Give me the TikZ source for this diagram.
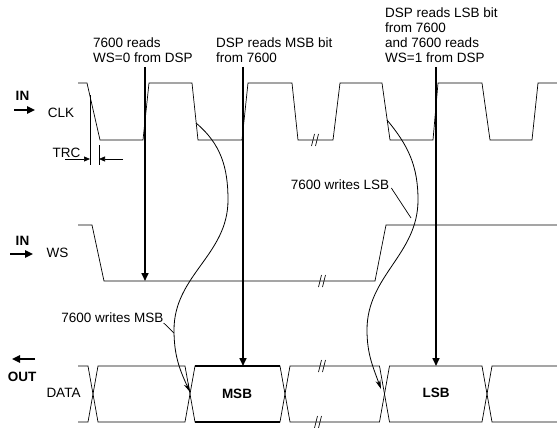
\documentclass[tikz,border=0pt]{standalone}
\usepackage{fontspec}
\setmainfont{Liberation Sans}
\usetikzlibrary{arrows.meta}

\tikzset{
  wave/.style={line width=0.7pt},
  msbbox/.style={line width=1.5pt},
  readarr/.style={line width=1.6pt,-{Triangle[length=8pt,width=7pt]}},
  inarr/.style={line width=1.6pt,-{Triangle[length=8pt,width=7.5pt]}},
  trcarr/.style={line width=0.7pt,-{Triangle[length=6pt,width=5pt]}},
  writearr/.style={line width=0.8pt,-{Stealth[length=9pt,width=5pt]}},
  lbl/.style={inner sep=0pt,font=\fontsize{13.5}{15}\selectfont},
  blbl/.style={lbl,font=\fontsize{13.5}{15}\selectfont\bfseries}
}
\newcommand{\brkmark}[2]{\draw[wave] (#1-3.5,#2+6) -- (#1-0.5,#2-6) (#1+0.5,#2+6) -- (#1+3.5,#2-6);}
\newcommand{\buscell}[2]{\draw[wave] (#1,394) -- (#1+5,366) -- (#2-5,366) -- (#2,394) -- (#2-5,422) -- (#1+5,422) -- cycle;}

\begin{document}
\begin{tikzpicture}[x=1pt,y=-1pt]
    \useasboundingbox (0,0) rectangle (557,428);

    % signal names
    \node (clkin)  at (22.5,96)  [blbl] {IN};
    \node (clk)    at (61,113)   [lbl] {CLK};
    \node (trc)    at (66.5,153) [lbl] {TRC};
    \node (wsin)   at (22.5,241) [blbl] {IN};
    \node (ws)     at (57.5,253) [lbl] {WS};
    \node (dataout) at (22,377)  [blbl] {OUT};
    \node (data)   at (63.5,393) [lbl] {DATA};

    \coordinate (clkinA) at (14,110);  \coordinate (clkinB) at (35,110);
    \coordinate (wsinA)  at (10,254);  \coordinate (wsinB)  at (33,254);
    \coordinate (outA)   at (35,359);  \coordinate (outB)   at (12,359);
    \draw[inarr] (clkinA) -- (clkinB);
    \draw[inarr] (wsinA) -- (wsinB);
    \draw[inarr] (outA) -- (outB);

    % CLK
    \draw[wave] (78,83) -- (87,83) -- (100,140) -- (143,140) -- (149,83) -- (192,83)
        -- (198,140) -- (242,140) -- (248,83) -- (292,83) -- (298,140) -- (333,140)
        -- (340,83) -- (382,83) -- (390,140) -- (433,140) -- (438,83) -- (482,83)
        -- (490,140) -- (532,140) -- (538,83) -- (557,83);
    \brkmark{315}{140}

    % TRC
    \draw[wave] (90,95) -- (90,165) (99,145) -- (99,165);
    \coordinate (trcL) at (90,159);  \coordinate (trcR) at (99,159);
    \draw[trcarr] (65,159) -- (trcL);
    \draw[trcarr] (123,159) -- (trcR);

    % WS
    \draw[wave] (78,225) -- (92,225) -- (104,281) -- (375,281) -- (386,225) -- (557,225);
    \brkmark{322}{281}

    % DATA
    \draw[wave] (78,366) -- (88,366) -- (93,394) -- (88,422) -- (78,422);
    \buscell{93}{190}
    \buscell{190}{285}
    \draw[msbbox] (195,366) -- (280,366) (195,422) -- (280,422);
    \buscell{285}{384.5}
    \buscell{384.5}{487}
    \draw[wave] (557,366) -- (492,366) -- (487,394) -- (492,422) -- (557,422);
    \brkmark{322}{366}
    \brkmark{318}{422}
    \node (msb) at (237,394) [blbl] {MSB};
    \node (lsb) at (436,393) [blbl] {LSB};

    % read events
    \node (rdws0)  at (93,37.2)  [lbl,anchor=north west,align=left] {7600 reads\\WS=0 from DSP};
    \node (rdmsb)  at (216,37.2) [lbl,anchor=north west,align=left] {DSP reads MSB bit\\from 7600};
    \node (rdlsb)  at (385,7.2)  [lbl,anchor=north west,align=left] {DSP reads LSB bit\\from 7600\\and 7600 reads\\WS=1 from DSP};
    \coordinate (r1top) at (145,67);  \coordinate (r1bot) at (145,281);
    \coordinate (r2top) at (243,67);  \coordinate (r2bot) at (243,366);
    \coordinate (r3top) at (436,67);  \coordinate (r3bot) at (436,366);
    \draw[readarr] (r1top) -- (r1bot);
    \draw[readarr] (r2top) -- (r2bot);
    \draw[readarr] (r3top) -- (r3bot);

    % write events
    \node (wrmsb) at (112.5,318) [lbl] {7600 writes MSB};
    \node (wrlsb) at (340,185)   [lbl] {7600 writes LSB};
    \coordinate (wm0) at (196,123);  \coordinate (wm1) at (190,392);
    \coordinate (wl0) at (387,120);  \coordinate (wl1) at (381,389);
    \draw[writearr] (wm0) to[out=-40,in=90] (228,200) to[out=-90,in=90] (174,330) to[out=-90,in=115] (wm1);
    \draw[writearr] (wl0) to[out=-50,in=90] (418,200) to[out=-90,in=90] (367,330) to[out=-90,in=110] (wl1);
    \draw[wave] (wrmsb.east) ++(0,5) -- (174,333);
    \draw[wave] (wrlsb.east) ++(2,3) -- (411,218);
\end{tikzpicture}
\end{document}
